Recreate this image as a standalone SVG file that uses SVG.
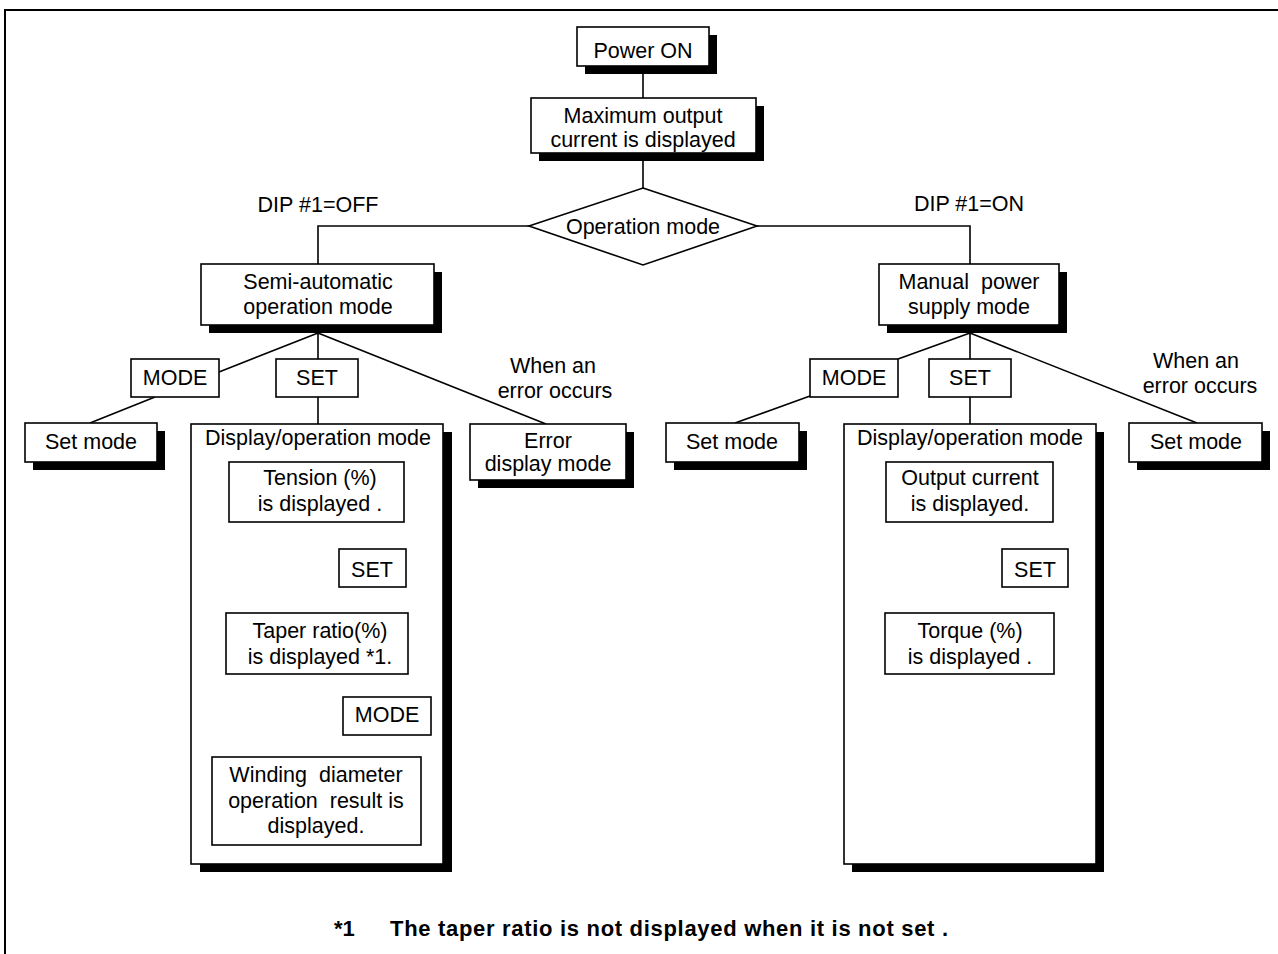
<svg xmlns="http://www.w3.org/2000/svg" width="1278" height="954" viewBox="0 0 1278 954">
<style>
text{font-family:"Liberation Sans",Arial,sans-serif;font-size:21.5px;fill:#000;text-anchor:middle}
.box{fill:#fff;stroke:#000;stroke-width:1.6}
.sh{fill:#000}
.ln{stroke:#000;stroke-width:1.6;fill:none}
.ft{font-weight:bold;text-anchor:start;font-size:22px}
</style>
<rect x="5" y="10" width="1290" height="960" fill="#fff" stroke="#000" stroke-width="2"/>
<g id="connectors">
<path class="ln" d="M643,66V98M643,153V188M529,226H318V264M757,226H970V264"/>
<path class="ln" d="M318,333L219,372M155,397L90,423M318,333V359M318,397V424M318,333L546,424"/>
<path class="ln" d="M317,522V613M317,674V757"/>
<path class="ln" d="M970,333L898,359M810,396L735,423M970,333V359M970,397V424M970,333L1197,423"/>
<path class="ln" d="M970,522V613"/>
</g>
<g id="power"><rect class="sh" x="585" y="35" width="132" height="39"/><rect class="box" x="577" y="27" width="132" height="39"/><text x="643" y="58">Power ON</text></g>
<g id="maxout"><rect class="sh" x="539" y="106" width="225" height="55"/><rect class="box" x="531" y="98" width="225" height="55"/><text x="643" y="123">Maximum output</text><text x="643" y="147">current is displayed</text></g>
<g id="opmode"><polygon class="box" points="643,188 757,226 643,265 529,226"/><text x="643" y="234">Operation mode</text></g>
<g id="dipoff"><text x="318" y="212">DIP #1=OFF</text></g>
<g id="dipon"><text x="969" y="211">DIP #1=ON</text></g>
<g id="semi"><rect class="sh" x="209" y="272" width="233" height="61"/><rect class="box" x="201" y="264" width="233" height="61"/><text x="318" y="289">Semi-automatic</text><text x="318" y="314">operation mode</text></g>
<g id="manual"><rect class="sh" x="887" y="272" width="180" height="61"/><rect class="box" x="879" y="264" width="180" height="61"/><text x="969" y="289" xml:space="preserve">Manual  power</text><text x="969" y="314">supply mode</text></g>
<g id="l-mode"><rect class="box" x="131" y="359" width="88" height="38"/><text x="175" y="385">MODE</text></g>
<g id="l-set"><rect class="box" x="276" y="359" width="82" height="38"/><text x="317" y="385">SET</text></g>
<g id="l-setmode"><rect class="sh" x="33" y="431" width="132" height="39"/><rect class="box" x="25" y="423" width="132" height="39"/><text x="91" y="449">Set mode</text></g>
<g id="l-err-label"><text x="553" y="373">When an</text><text x="555" y="398">error occurs</text></g>
<g id="l-error"><rect class="sh" x="478" y="432" width="156" height="56"/><rect class="box" x="470" y="424" width="156" height="56"/><text x="548" y="448">Error</text><text x="548" y="471">display mode</text></g>
<g id="l-display"><rect class="sh" x="200" y="432" width="252" height="440"/><rect class="box" x="191" y="424" width="252" height="440"/><text x="318" y="445">Display/operation mode</text></g>
<g id="tension"><rect class="box" x="229" y="462" width="175" height="60"/><text x="320" y="485">Tension (%)</text><text x="320" y="511">is displayed .</text></g>
<g id="l-set2"><rect class="box" x="339" y="549" width="67" height="38"/><text x="372" y="577">SET</text></g>
<g id="taper"><rect class="box" x="226" y="613" width="182" height="61"/><text x="320" y="638">Taper ratio(%)</text><text x="320" y="664">is displayed *1.</text></g>
<g id="l-mode2"><rect class="box" x="343" y="697" width="88" height="38"/><text x="387" y="722">MODE</text></g>
<g id="winding"><rect class="box" x="212" y="757" width="209" height="88"/><text x="316" y="782" xml:space="preserve">Winding  diameter</text><text x="316" y="808" xml:space="preserve">operation  result is</text><text x="316" y="833">displayed.</text></g>
<g id="r-mode"><rect class="box" x="810" y="359" width="88" height="38"/><text x="854" y="385">MODE</text></g>
<g id="r-set"><rect class="box" x="929" y="359" width="82" height="38"/><text x="970" y="385">SET</text></g>
<g id="r-setmode1"><rect class="sh" x="674" y="431" width="133" height="39"/><rect class="box" x="666" y="423" width="133" height="39"/><text x="732" y="449">Set mode</text></g>
<g id="r-display"><rect class="sh" x="852" y="432" width="252" height="440"/><rect class="box" x="844" y="424" width="252" height="440"/><text x="970" y="445">Display/operation mode</text></g>
<g id="outcur"><rect class="box" x="886" y="462" width="167" height="60"/><text x="970" y="485">Output current</text><text x="970" y="511">is displayed.</text></g>
<g id="r-set2"><rect class="box" x="1002" y="549" width="66" height="38"/><text x="1035" y="577">SET</text></g>
<g id="torque"><rect class="box" x="885" y="613" width="169" height="61"/><text x="970" y="638">Torque (%)</text><text x="970" y="664">is displayed .</text></g>
<g id="r-err-label"><text x="1196" y="368">When an</text><text x="1200" y="393">error occurs</text></g>
<g id="r-setmode2"><rect class="sh" x="1137" y="431" width="133" height="39"/><rect class="box" x="1129" y="423" width="133" height="39"/><text x="1196" y="449">Set mode</text></g>
<g id="footnote"><text class="ft" x="334" y="936">*1</text><text class="ft" x="390" y="936" textLength="558" lengthAdjust="spacing">The taper ratio is not displayed when it is not set .</text></g>
</svg>
